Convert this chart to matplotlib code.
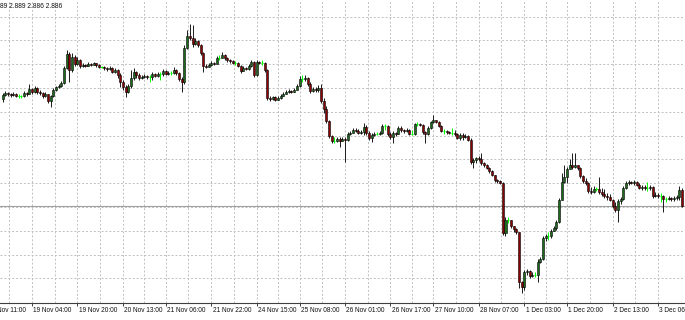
import matplotlib.pyplot as plt
import numpy as np

plt.rcParams['font.family'] = ['Liberation Sans', 'DejaVu Sans']

# hourly bars, price (1 px ~ 0.001)
first_open = 2.993
close = [
    2.997, 2.999, 2.998, 2.997, 2.998, 2.996, 2.996, 2.996, 2.999, 2.998,
    3.003, 3.000, 3.004, 3.000, 2.999, 2.996, 2.998, 2.991, 2.996, 3.002,
    3.005, 3.006, 3.009, 3.024, 3.038, 3.022, 3.035, 3.028, 3.032, 3.026,
    3.027, 3.026, 3.028, 3.027, 3.029, 3.027, 3.025, 3.025, 3.024, 3.023,
    3.024, 3.020, 3.022, 3.017, 3.010, 3.005, 3.000, 3.006, 3.014, 3.020,
    3.017, 3.014, 3.015, 3.016, 3.015, 3.015, 3.018, 3.016, 3.018, 3.018,
    3.021, 3.018, 3.019, 3.019, 3.022, 3.019, 3.013, 3.010, 3.044, 3.056,
    3.054, 3.048, 3.051, 3.047, 3.039, 3.026, 3.025, 3.027, 3.029, 3.028,
    3.034, 3.034, 3.037, 3.034, 3.032, 3.031, 3.029, 3.029, 3.026, 3.021,
    3.024, 3.023, 3.026, 3.030, 3.017, 3.030, 3.029, 3.029, 3.022, 2.994,
    2.993, 2.995, 2.992, 2.994, 2.996, 2.998, 3.000, 3.001, 3.000, 3.002,
    3.006, 3.013, 3.013, 3.014, 3.008, 3.001, 3.003, 3.002, 3.004, 2.991,
    2.983, 2.971, 2.956, 2.951, 2.951, 2.953, 2.951, 2.953, 2.952, 2.958,
    2.959, 2.962, 2.961, 2.959, 2.960, 2.965, 2.959, 2.954, 2.957, 2.958,
    2.958, 2.959, 2.966, 2.966, 2.958, 2.955, 2.959, 2.958, 2.964, 2.962,
    2.961, 2.962, 2.958, 2.958, 2.968, 2.968, 2.967, 2.960, 2.958, 2.964,
    2.970, 2.972, 2.970, 2.966, 2.961, 2.961, 2.960, 2.959, 2.959, 2.958,
    2.954, 2.957, 2.955, 2.956, 2.952, 2.930, 2.932, 2.934, 2.933, 2.929,
    2.927, 2.924, 2.921, 2.917, 2.912, 2.911, 2.909, 2.859, 2.872, 2.872,
    2.866, 2.863, 2.860, 2.810, 2.805, 2.820, 2.821, 2.816, 2.817, 2.817,
    2.830, 2.833, 2.854, 2.856, 2.856, 2.861, 2.864, 2.870, 2.892, 2.910,
    2.915, 2.923, 2.927, 2.925, 2.927, 2.924, 2.916, 2.911, 2.909, 2.901,
    2.900, 2.903, 2.903, 2.900, 2.898, 2.896, 2.895, 2.892, 2.886, 2.882,
    2.891, 2.893, 2.904, 2.909, 2.910, 2.909, 2.910, 2.907, 2.904, 2.905,
    2.904, 2.904, 2.905, 2.896, 2.897, 2.896, 2.896, 2.893, 2.893, 2.894,
    2.893, 2.894, 2.895, 2.902, 2.886,
]
high = [
    2.999, 3.001, 3.000, 2.999, 3.000, 2.999, 2.998, 2.997, 3.001, 3.000,
    3.008, 3.004, 3.006, 3.005, 3.002, 3.000, 3.000, 2.998, 2.997, 3.004,
    3.006, 3.008, 3.011, 3.026, 3.042, 3.040, 3.039, 3.037, 3.035, 3.033,
    3.029, 3.028, 3.030, 3.029, 3.030, 3.029, 3.028, 3.026, 3.026, 3.025,
    3.026, 3.025, 3.024, 3.023, 3.019, 3.012, 3.007, 3.008, 3.022, 3.024,
    3.021, 3.019, 3.017, 3.018, 3.017, 3.017, 3.020, 3.019, 3.020, 3.020,
    3.023, 3.022, 3.021, 3.021, 3.025, 3.023, 3.020, 3.015, 3.047, 3.062,
    3.068, 3.067, 3.054, 3.052, 3.048, 3.040, 3.028, 3.029, 3.031, 3.030,
    3.036, 3.037, 3.040, 3.038, 3.035, 3.033, 3.032, 3.031, 3.030, 3.027,
    3.026, 3.025, 3.028, 3.032, 3.031, 3.032, 3.031, 3.032, 3.030, 3.023,
    2.996, 2.996, 2.996, 2.996, 2.998, 3.000, 3.002, 3.003, 3.002, 3.004,
    3.008, 3.016, 3.017, 3.017, 3.015, 3.010, 3.005, 3.005, 3.007, 3.008,
    2.994, 2.986, 2.972, 2.957, 2.955, 2.955, 2.955, 2.955, 2.955, 2.960,
    2.961, 2.964, 2.964, 2.963, 2.962, 2.969, 2.967, 2.961, 2.959, 2.960,
    2.960, 2.961, 2.968, 2.968, 2.967, 2.960, 2.961, 2.960, 2.966, 2.966,
    2.963, 2.964, 2.963, 2.962, 2.969, 2.970, 2.969, 2.968, 2.961, 2.966,
    2.971, 2.977, 2.972, 2.971, 2.967, 2.963, 2.962, 2.961, 2.964, 2.962,
    2.959, 2.959, 2.959, 2.958, 2.957, 2.954, 2.934, 2.935, 2.936, 2.939,
    2.930, 2.928, 2.925, 2.922, 2.916, 2.913, 2.912, 2.910, 2.875, 2.875,
    2.872, 2.866, 2.864, 2.860, 2.811, 2.822, 2.823, 2.822, 2.820, 2.820,
    2.833, 2.835, 2.856, 2.858, 2.860, 2.863, 2.866, 2.872, 2.894, 2.919,
    2.927, 2.925, 2.933, 2.939, 2.939, 2.927, 2.925, 2.917, 2.914, 2.910,
    2.905, 2.906, 2.905, 2.915, 2.904, 2.903, 2.899, 2.898, 2.893, 2.890,
    2.893, 2.895, 2.906, 2.911, 2.912, 2.911, 2.912, 2.911, 2.909, 2.907,
    2.907, 2.910, 2.907, 2.906, 2.900, 2.899, 2.899, 2.897, 2.895, 2.896,
    2.895, 2.896, 2.897, 2.906, 2.904,
]
low = [
    2.990, 2.996, 2.996, 2.995, 2.996, 2.995, 2.994, 2.994, 2.995, 2.996,
    2.998, 2.998, 2.999, 2.998, 2.997, 2.994, 2.995, 2.989, 2.985, 2.995,
    3.001, 3.004, 3.005, 3.008, 3.023, 3.010, 3.020, 3.026, 3.027, 3.024,
    3.025, 3.025, 3.026, 3.026, 3.027, 3.025, 3.024, 3.024, 3.022, 3.021,
    3.022, 3.019, 3.019, 3.014, 3.005, 3.002, 2.995, 2.999, 3.004, 3.012,
    3.014, 3.012, 3.013, 3.014, 3.013, 3.010, 3.012, 3.015, 3.015, 3.012,
    3.016, 3.017, 3.017, 3.017, 3.018, 3.017, 3.011, 3.000, 3.008, 3.043,
    3.052, 3.045, 3.047, 3.045, 3.037, 3.020, 3.024, 3.025, 3.026, 3.027,
    3.028, 3.032, 3.034, 3.032, 3.030, 3.029, 3.028, 3.027, 3.025, 3.019,
    3.021, 3.022, 3.022, 3.025, 3.015, 3.016, 3.028, 3.027, 3.020, 2.992,
    2.991, 2.992, 2.991, 2.992, 2.993, 2.996, 2.998, 2.999, 2.999, 3.000,
    3.002, 3.005, 3.010, 3.011, 3.006, 2.999, 3.000, 3.000, 3.000, 2.989,
    2.979, 2.969, 2.954, 2.949, 2.949, 2.950, 2.945, 2.951, 2.930, 2.951,
    2.957, 2.959, 2.960, 2.958, 2.958, 2.957, 2.957, 2.952, 2.950, 2.956,
    2.957, 2.957, 2.958, 2.962, 2.956, 2.953, 2.949, 2.956, 2.958, 2.960,
    2.959, 2.960, 2.957, 2.957, 2.957, 2.966, 2.966, 2.958, 2.949, 2.957,
    2.963, 2.969, 2.969, 2.965, 2.960, 2.958, 2.958, 2.958, 2.957, 2.956,
    2.953, 2.952, 2.952, 2.954, 2.951, 2.928, 2.924, 2.929, 2.931, 2.927,
    2.925, 2.923, 2.919, 2.916, 2.910, 2.909, 2.908, 2.857, 2.856, 2.869,
    2.864, 2.860, 2.858, 2.804, 2.799, 2.802, 2.817, 2.814, 2.815, 2.815,
    2.810, 2.829, 2.832, 2.851, 2.852, 2.854, 2.861, 2.862, 2.869, 2.892,
    2.909, 2.909, 2.923, 2.923, 2.924, 2.922, 2.914, 2.909, 2.907, 2.899,
    2.898, 2.899, 2.901, 2.898, 2.896, 2.894, 2.892, 2.891, 2.884, 2.880,
    2.870, 2.888, 2.892, 2.903, 2.907, 2.908, 2.907, 2.906, 2.903, 2.902,
    2.902, 2.901, 2.902, 2.894, 2.895, 2.894, 2.890, 2.880, 2.890, 2.892,
    2.891, 2.891, 2.892, 2.892, 2.885,
]

tick_bars = [-6, 11, 28, 45, 61, 78, 95, 111, 128, 145, 161, 178, 195, 211, 228, 245]
tick_labels = ["18 Nov 11:00", "19 Nov 04:00", "19 Nov 20:00", "20 Nov 13:00",
               "21 Nov 06:00", "21 Nov 22:00", "24 Nov 15:00", "25 Nov 08:00",
               "26 Nov 01:00", "26 Nov 17:00", "27 Nov 10:00", "28 Nov 07:00",
               "1 Dec 03:00", "1 Dec 20:00", "2 Dec 13:00", "3 Dec 06:00"]
info_text = "89 2.889 2.886 2.886"
bid = 2.886

c = np.array(close)
o = np.concatenate([[first_open], c[:-1]])
h = np.maximum(np.array(high), np.maximum(o, c))
l = np.minimum(np.array(low), np.minimum(o, c))
x = np.arange(len(c))

doji = np.isclose(o, c)
up = (c > o) & ~doji
dn = (c < o) & ~doji

fig = plt.figure(figsize=(6.85, 3.2), dpi=100)
ax = fig.add_axes([0, 17 / 320, 1, 303 / 320])
ax.set_xlim(-0.96, 255.1)
ax.set_ylim(2.789, 3.092)

# dashed grid: every label tick and half way between
vgrid = sorted(tick_bars + [(a + b) / 2 for a, b in zip(tick_bars[:-1], tick_bars[1:])])
for v in vgrid:
    ax.axvline(v, color="#c0c0c0", lw=0.7, ls=(0, (2, 2)), zorder=0)
for g in np.arange(2.8136, 3.08, 0.0238):
    ax.axhline(g, color="#c0c0c0", lw=0.7, ls=(0, (2, 2)), zorder=0)

ax.axhline(bid, color="#a0a0a0", lw=0.8, zorder=1)

# candles
ax.vlines(x[~doji], l[~doji], h[~doji], color="#1a1a1a", lw=0.7, zorder=2)
ax.vlines(x[doji], l[doji], h[doji], color="#00ff00", lw=0.7, zorder=2)
ax.hlines(c[doji], x[doji] - 0.4, x[doji] + 0.4, color="#00ff00", lw=0.8, zorder=3)
ax.bar(x[up], c[up] - o[up], bottom=o[up], width=0.75, color="#1e6b1e",
       edgecolor="black", linewidth=0.4, zorder=3)
ax.bar(x[dn], o[dn] - c[dn], bottom=c[dn], width=0.75, color="#8b0000",
       edgecolor="black", linewidth=0.4, zorder=3)

for s in ["left", "right", "top"]:
    ax.spines[s].set_visible(False)
ax.spines["bottom"].set_color("#404040")
ax.spines["bottom"].set_linewidth(0.8)
ax.set_yticks([])
ax.set_xticks([t for t in tick_bars if t > -0.96])
ax.tick_params(axis="x", length=2.5, width=0.7, color="#404040", labelbottom=False)

for t, lab in zip(tick_bars, tick_labels):
    ax.annotate(lab, xy=(t, 0), xycoords=("data", "axes fraction"), xytext=(1.0, -3.0),
                textcoords="offset points", ha="left", va="top", fontsize=4.7,
                color="#111111", annotation_clip=False)

fig.text(0.0, 1 - 3 / 320, info_text, ha="left", va="top", fontsize=4.8, color="#111111")

fig.savefig("out.png", dpi=100)
